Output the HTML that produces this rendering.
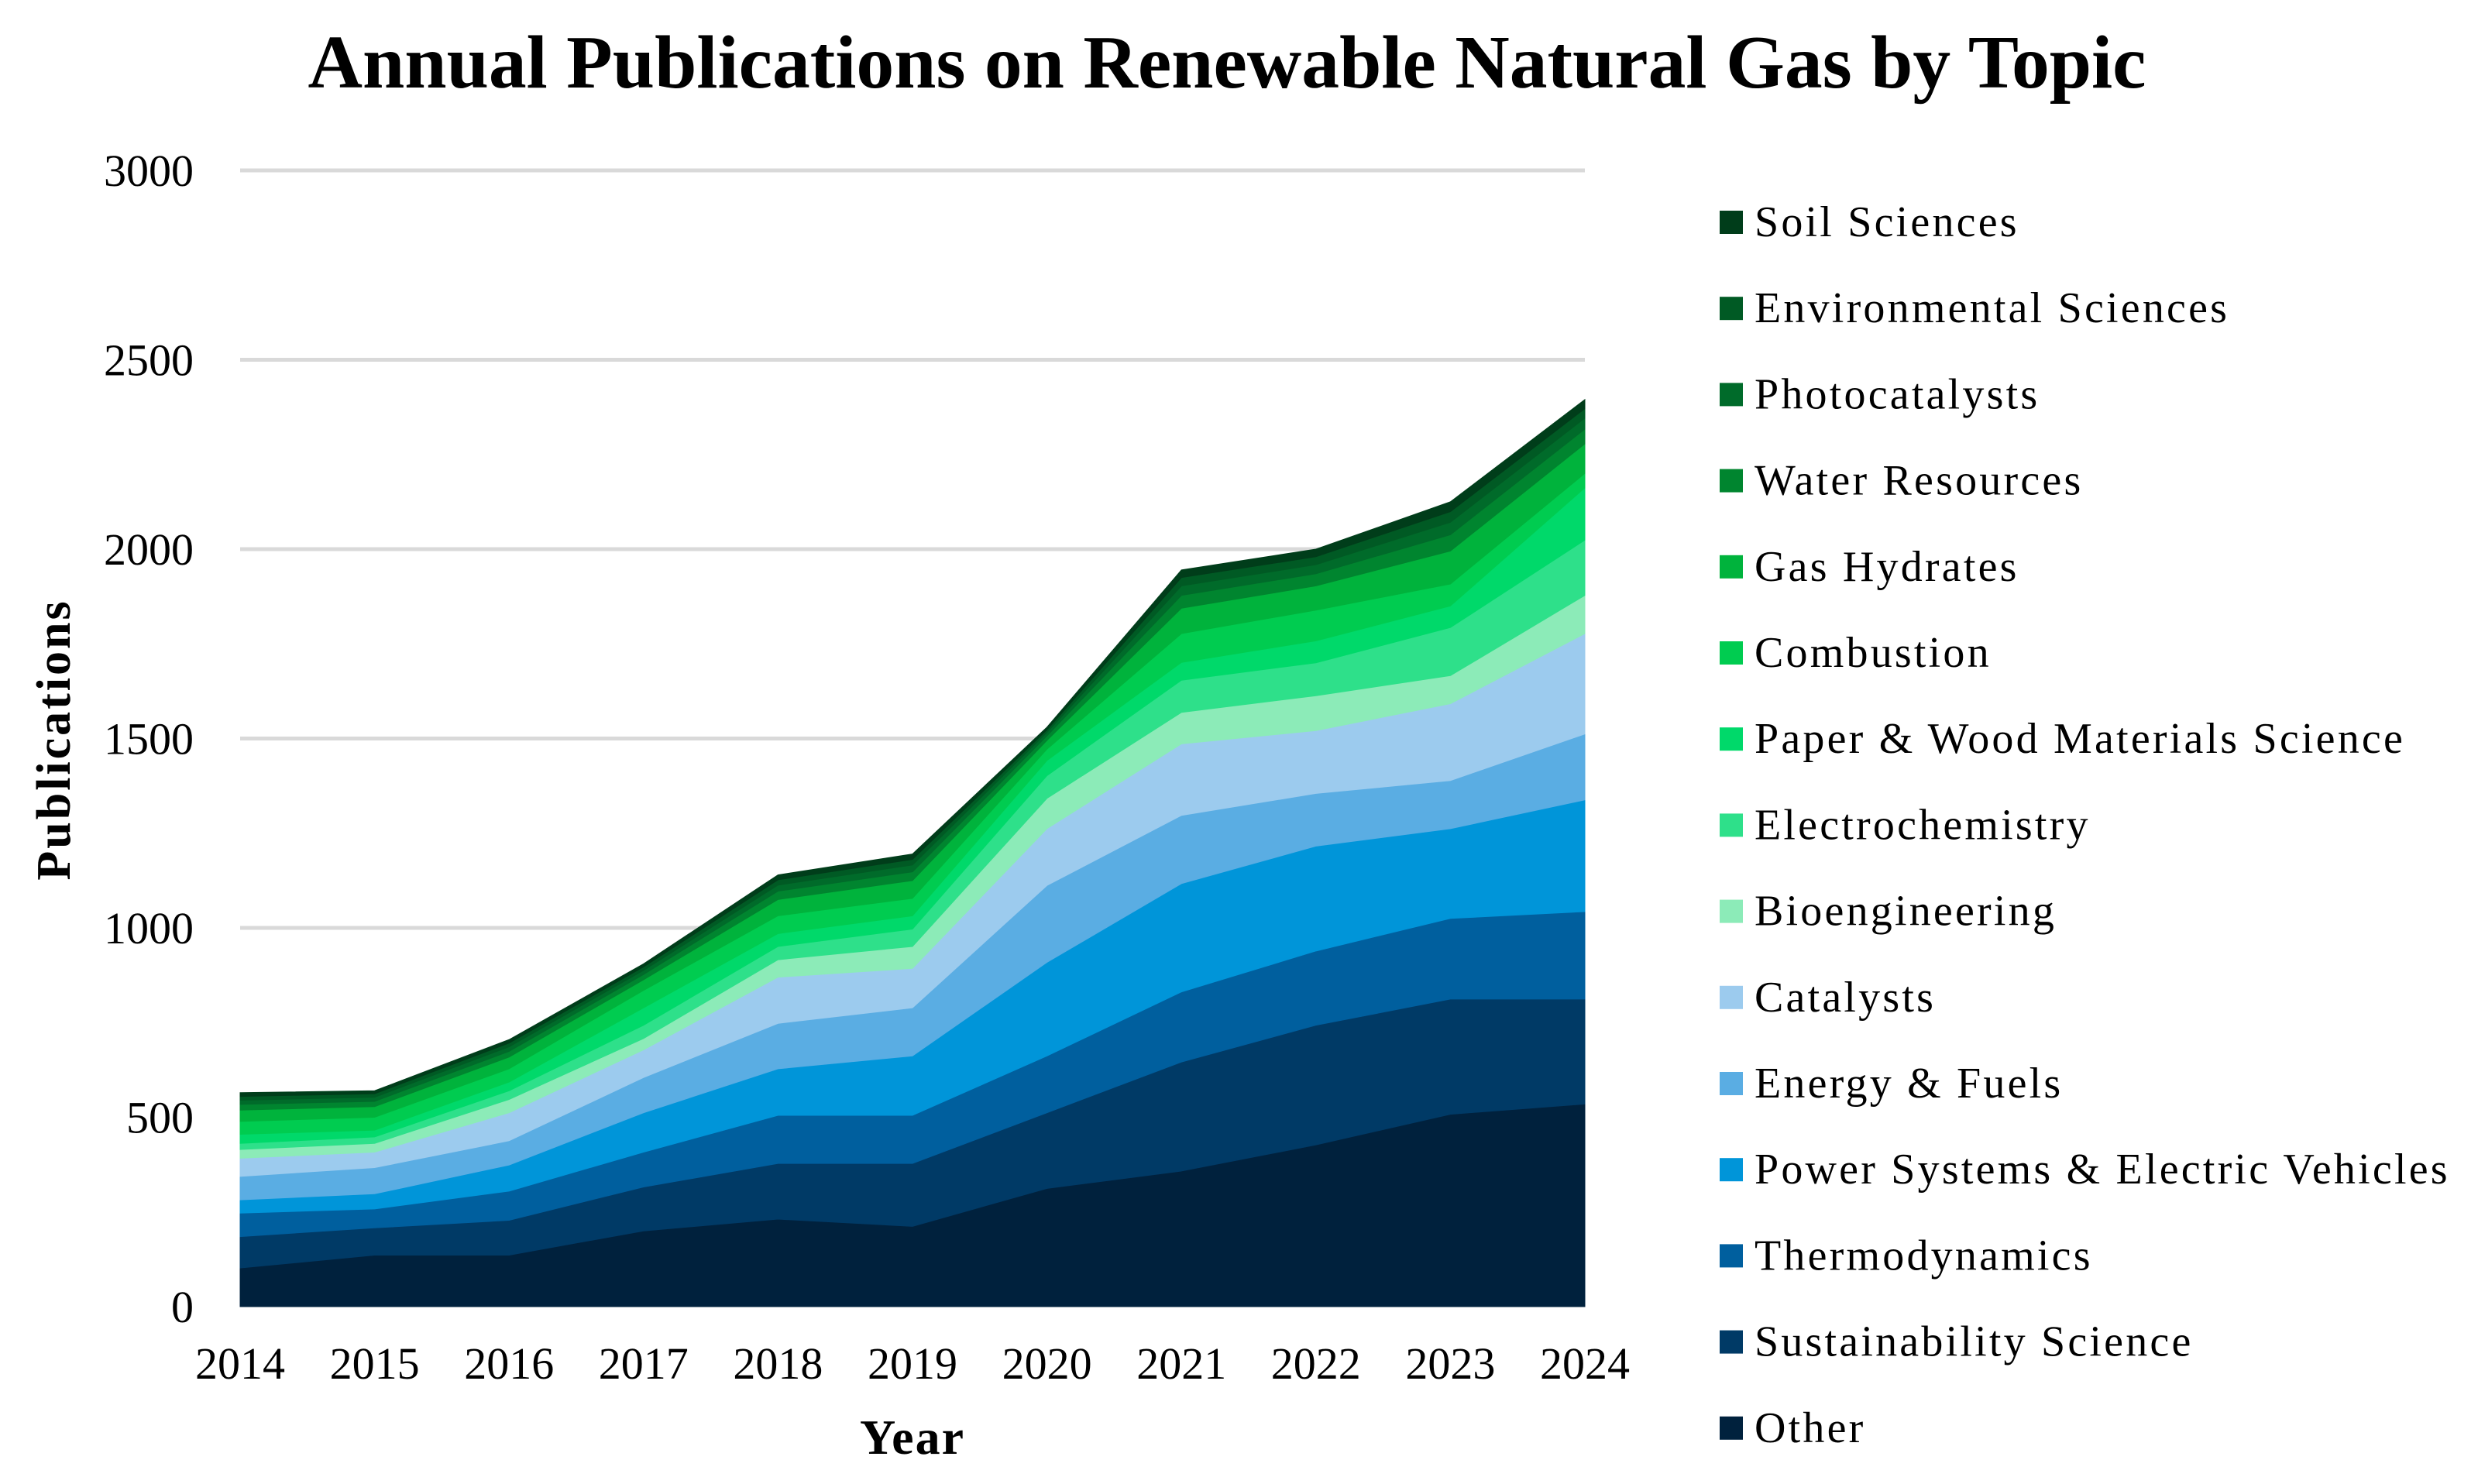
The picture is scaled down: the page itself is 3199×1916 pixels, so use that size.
<!DOCTYPE html>
<html><head><meta charset="utf-8">
<style>
html,body{margin:0;padding:0;background:#fff;}
svg{display:block;font-family:"Liberation Serif",serif;}
</style></head>
<body>
<svg id="chart" width="3199" height="1916" viewBox="0 0 3199 1916" xmlns="http://www.w3.org/2000/svg">
<text x="1584" y="113" text-anchor="middle" font-size="98" font-weight="bold" textLength="2373" lengthAdjust="spacingAndGlyphs">Annual Publications on Renewable Natural Gas by Topic</text>
<g id="grid"></g>
<g id="areas"></g>
<g id="yticks"></g>
<g id="xticks"></g>
<text x="1178" y="1877" text-anchor="middle" font-size="64" font-weight="bold" letter-spacing="2">Year</text>
<text transform="translate(90,955) rotate(-90)" text-anchor="middle" font-size="62" font-weight="bold" letter-spacing="3">Publications</text>
<g id="legend"></g>
</svg>
<script>
const years = [2014,2015,2016,2017,2018,2019,2020,2021,2022,2023,2024];
const yTicks = [0,500,1000,1500,2000,2500,3000];
const seriesNames = ["Other","Sustainability Science","Thermodynamics","Power Systems & Electric Vehicles","Energy & Fuels","Catalysts","Bioengineering","Electrochemistry","Paper & Wood Materials Science","Combustion","Gas Hydrates","Water Resources","Photocatalysts","Environmental Sciences","Soil Sciences"];
const seriesColors = ["#00213d","#003a66","#005f9e","#0095d9","#5aade3","#9ccbee","#8cebb8","#2ee08a","#00d96a","#00cc50","#00b33c","#00852f","#006b2a","#005a24","#003d1a"];
const other = [102,136,136,200,231,212,312,358,427,508,535];
const sustainability = [83,72,92,116,147,166,200,288,316,304,277];
const thermodynamics = [62,50,77,92,127,127,150,185,196,213,231];
const powerSystems = [35,40,69,104,123,157,247,286,277,237,295];
const energyFuels = [62,69,64,93,120,127,203,180,139,127,174];
const catalysts = [48,41,74,73,122,104,150,189,166,203,265];
const bioengineering = [23,23,35,30,46,58,80,83,92,74,101];
const electrochemistry = [16,17,23,35,35,46,60,85,87,127,146];
const paperWood = [24,18,23,46,34,35,40,47,58,57,138];
const combustion = [34,34,35,46,47,46,30,76,81,58,38];
const gasHydrates = [30,28,31,28,43,47,23,67,64,87,78];
const waterResources = [15,14,15,14,22,23,12,34,32,43,39];
const photocatalysts = [11,11,12,11,16,18,9,25,24,33,29];
const environmental = [10,9,10,9,14,15,7,22,21,28,25];
const soil = [10,8,9,8,13,14,7,20,20,26,24];
const seriesValues = [other,sustainability,thermodynamics,powerSystems,energyFuels,catalysts,bioengineering,electrochemistry,paperWood,combustion,gasHydrates,waterResources,photocatalysts,environmental,soil];

const X0=310, X1=2046, Y0=1687, Y1=220, YMAX=3000;
const xs = i => X0 + (X1-X0)*i/(years.length-1);
const ys = v => Y0 - (Y0-Y1)*v/YMAX;
const NS="http://www.w3.org/2000/svg";
function mk(tag,parent){const e=document.createElementNS(NS,tag);parent.appendChild(e);return e;}

const grid=document.getElementById('grid'), yt=document.getElementById('yticks');
yTicks.forEach(t=>{
  if(t>0){
    const l=mk('line',grid);
    
    
    l.setAttribute('x1',X0);l.setAttribute('x2',X1);l.setAttribute('y1',ys(t));l.setAttribute('y2',ys(t));
    l.setAttribute('stroke','#d9d9d9');l.setAttribute('stroke-width','5');
  }
  const tx=mk('text',yt);
  
  
  tx.setAttribute('x',250);tx.setAttribute('y',ys(t)+20);tx.setAttribute('text-anchor','end');tx.setAttribute('font-size','58');
  tx.textContent=t;
});

const areas=document.getElementById('areas');
let base=years.map(()=>0);
seriesValues.forEach((vals,si)=>{
  const top=base.map((b,i)=>b+vals[i]);
  let d='';
  top.forEach((v,i)=>{d+=(i?'L':'M')+xs(i)+' '+ys(v)+' ';});
  for(let i=years.length-1;i>=0;i--) d+='L'+xs(i)+' '+ys(base[i])+' ';
  d+='Z';
  const p=mk('path',areas);
  
  
  p.setAttribute('d',d);p.setAttribute('fill',seriesColors[si]);
  p.setAttribute('stroke',seriesColors[si]);p.setAttribute('stroke-width','1');
  base=top;
});

const xt=document.getElementById('xticks');
years.forEach((y,i)=>{
  const tx=mk('text',xt);
  
  
  tx.setAttribute('x',xs(i));tx.setAttribute('y',1780);tx.setAttribute('text-anchor','middle');tx.setAttribute('font-size','58');
  tx.textContent=y;
});

const lg=document.getElementById('legend');
for(let k=0;k<seriesNames.length;k++){
  const si=seriesNames.length-1-k;
  const cy=287+k*111.2;
  const r=mk('rect',lg);
  
  
  r.setAttribute('x',2220);r.setAttribute('y',cy-15);r.setAttribute('width',30);r.setAttribute('height',30);r.setAttribute('fill',seriesColors[si]);
  const t=mk('text',lg);
  
  
  t.setAttribute('x',2265);t.setAttribute('y',cy+18);t.setAttribute('font-size','56');t.setAttribute('letter-spacing','3.2');
  t.textContent=seriesNames[si];
}
</script>
</body></html>
